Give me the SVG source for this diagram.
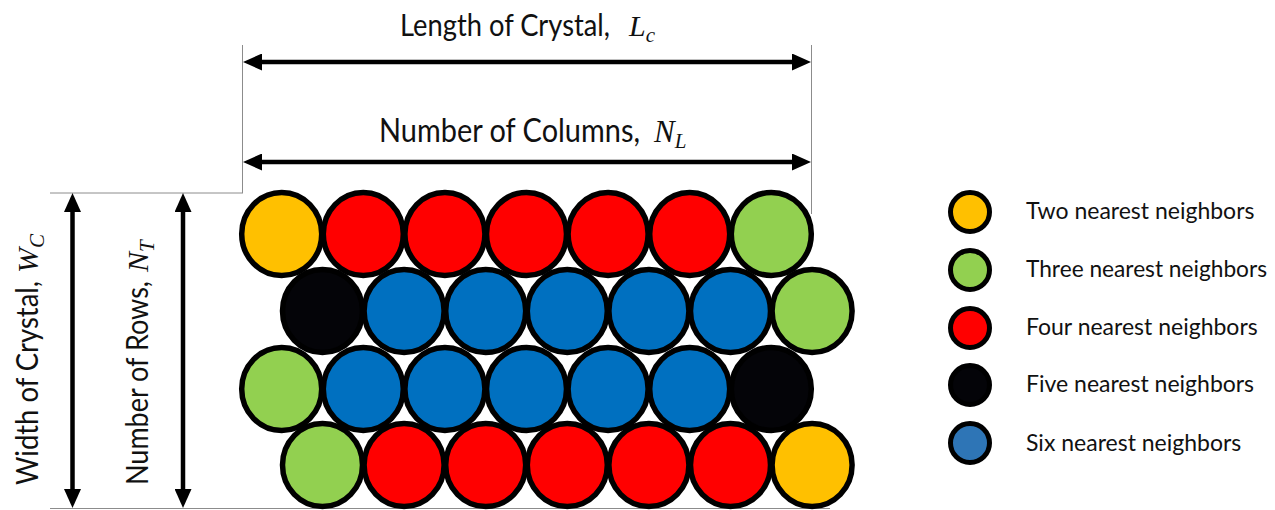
<svg xmlns="http://www.w3.org/2000/svg" width="1275" height="510" viewBox="0 0 1275 510">
<defs>
<style>
.c{stroke:#000;stroke-width:5.5}
.lg{stroke:#000;stroke-width:5}
.y{fill:#FFC000}.r{fill:#FF0000}.g{fill:#92D050}.k{fill:#040408}.b{fill:#0070C0}.bl{fill:#2E75B6}
.t{font-family:Lato,"Open Sans",sans-serif;fill:#111}
.m{font-family:"Liberation Serif",serif;font-style:italic;fill:#111}
.ext{stroke:#8c8c8c;stroke-width:1;fill:none}
.arr{stroke:#000;stroke-width:4.5;fill:none;marker-start:url(#ah);marker-end:url(#ah)}
</style>
<marker id="ah" markerUnits="userSpaceOnUse" viewBox="0 0 19 17" markerWidth="19" markerHeight="17" refX="9" refY="8.5" orient="auto-start-reverse">
<path d="M0,0 L19,8.5 L0,17 z" fill="#000"/>
</marker>
</defs>
<rect width="1275" height="510" fill="#fff"/>

<g id="connectors">
<line class="ext" x1="242.5" y1="45" x2="242.5" y2="193"/>
<line class="ext" x1="811.5" y1="45" x2="811.5" y2="214"/>
<line class="ext" x1="50" y1="193" x2="243" y2="193"/>
<line class="ext" x1="50" y1="508.5" x2="830" y2="508.5"/>
<line class="arr" x1="253" y1="62" x2="801" y2="62"/>
<line class="arr" x1="253" y1="162" x2="801" y2="162"/>
<line class="arr" x1="72.5" y1="203" x2="72.5" y2="498"/>
<line class="arr" x1="183" y1="203" x2="183" y2="498"/>
</g>

<g id="label-length">
<text class="t" x="400" y="36" font-size="31" textLength="210" lengthAdjust="spacingAndGlyphs">Length of Crystal,</text>
<text class="m" x="629" y="36" font-size="30">L<tspan font-size="21" dy="6">c</tspan></text>
</g>
<g id="label-columns">
<text class="t" x="379" y="142" font-size="32" textLength="261" lengthAdjust="spacingAndGlyphs">Number of Columns,</text>
<text class="m" x="654" y="142" font-size="31">N<tspan font-size="21" dy="6">L</tspan></text>
</g>
<g id="label-width" transform="translate(38,485) rotate(-90)">
<text class="t" x="0" y="0" font-size="31.5" textLength="204" lengthAdjust="spacingAndGlyphs">Width of Crystal,</text>
<text class="m" x="212" y="0" font-size="30">W<tspan font-size="21" dy="6">C</tspan></text>
</g>
<g id="label-rows" transform="translate(148,485) rotate(-90)">
<text class="t" x="0" y="0" font-size="31.5" textLength="204" lengthAdjust="spacingAndGlyphs">Number of Rows,</text>
<text class="m" x="213" y="0" font-size="30">N<tspan font-size="21" dy="6">T</tspan></text>
</g>

<g id="row1">
<ellipse id="n11" class="c y" cx="281.7" cy="234" rx="40" ry="41.5"/>
<ellipse id="n12" class="c r" cx="363.3" cy="234" rx="40" ry="41.5"/>
<ellipse id="n13" class="c r" cx="444.9" cy="234" rx="40" ry="41.5"/>
<ellipse id="n14" class="c r" cx="526.5" cy="234" rx="40" ry="41.5"/>
<ellipse id="n15" class="c r" cx="608.1" cy="234" rx="40" ry="41.5"/>
<ellipse id="n16" class="c r" cx="689.7" cy="234" rx="40" ry="41.5"/>
<ellipse id="n17" class="c g" cx="771.3" cy="234" rx="40" ry="41.5"/>
</g>
<g id="row2">
<ellipse id="n21" class="c k" cx="322.5" cy="311" rx="40" ry="41.5"/>
<ellipse id="n22" class="c b" cx="404.1" cy="311" rx="40" ry="41.5"/>
<ellipse id="n23" class="c b" cx="485.7" cy="311" rx="40" ry="41.5"/>
<ellipse id="n24" class="c b" cx="567.3" cy="311" rx="40" ry="41.5"/>
<ellipse id="n25" class="c b" cx="648.9" cy="311" rx="40" ry="41.5"/>
<ellipse id="n26" class="c b" cx="730.5" cy="311" rx="40" ry="41.5"/>
<ellipse id="n27" class="c g" cx="812.1" cy="311" rx="40" ry="41.5"/>
</g>
<g id="row3">
<ellipse id="n31" class="c g" cx="281.7" cy="389" rx="40" ry="41.5"/>
<ellipse id="n32" class="c b" cx="363.3" cy="389" rx="40" ry="41.5"/>
<ellipse id="n33" class="c b" cx="444.9" cy="389" rx="40" ry="41.5"/>
<ellipse id="n34" class="c b" cx="526.5" cy="389" rx="40" ry="41.5"/>
<ellipse id="n35" class="c b" cx="608.1" cy="389" rx="40" ry="41.5"/>
<ellipse id="n36" class="c b" cx="689.7" cy="389" rx="40" ry="41.5"/>
<ellipse id="n37" class="c k" cx="771.3" cy="389" rx="40" ry="41.5"/>
</g>
<g id="row4">
<ellipse id="n41" class="c g" cx="322.5" cy="465" rx="40" ry="41.5"/>
<ellipse id="n42" class="c r" cx="404.1" cy="465" rx="40" ry="41.5"/>
<ellipse id="n43" class="c r" cx="485.7" cy="465" rx="40" ry="41.5"/>
<ellipse id="n44" class="c r" cx="567.3" cy="465" rx="40" ry="41.5"/>
<ellipse id="n45" class="c r" cx="648.9" cy="465" rx="40" ry="41.5"/>
<ellipse id="n46" class="c r" cx="730.5" cy="465" rx="40" ry="41.5"/>
<ellipse id="n47" class="c y" cx="812.1" cy="465" rx="40" ry="41.5"/>
</g>

<g id="legend-two">
<circle class="lg y" cx="970" cy="212" r="19.5"/>
<text class="t" x="1026" y="219" font-size="23">Two nearest neighbors</text>
</g>
<g id="legend-three">
<circle class="lg g" cx="970" cy="270" r="19.5"/>
<text class="t" x="1026" y="277" font-size="23.5" textLength="241" lengthAdjust="spacingAndGlyphs">Three nearest neighbors</text>
</g>
<g id="legend-four">
<circle class="lg r" cx="970" cy="328" r="19.5"/>
<text class="t" x="1026" y="335" font-size="23">Four nearest neighbors</text>
</g>
<g id="legend-five">
<circle class="lg k" cx="970" cy="385" r="19.5"/>
<text class="t" x="1026" y="392" font-size="23">Five nearest neighbors</text>
</g>
<g id="legend-six">
<circle class="lg bl" cx="970" cy="443" r="19.5"/>
<text class="t" x="1026" y="451" font-size="23">Six nearest neighbors</text>
</g>
</svg>
